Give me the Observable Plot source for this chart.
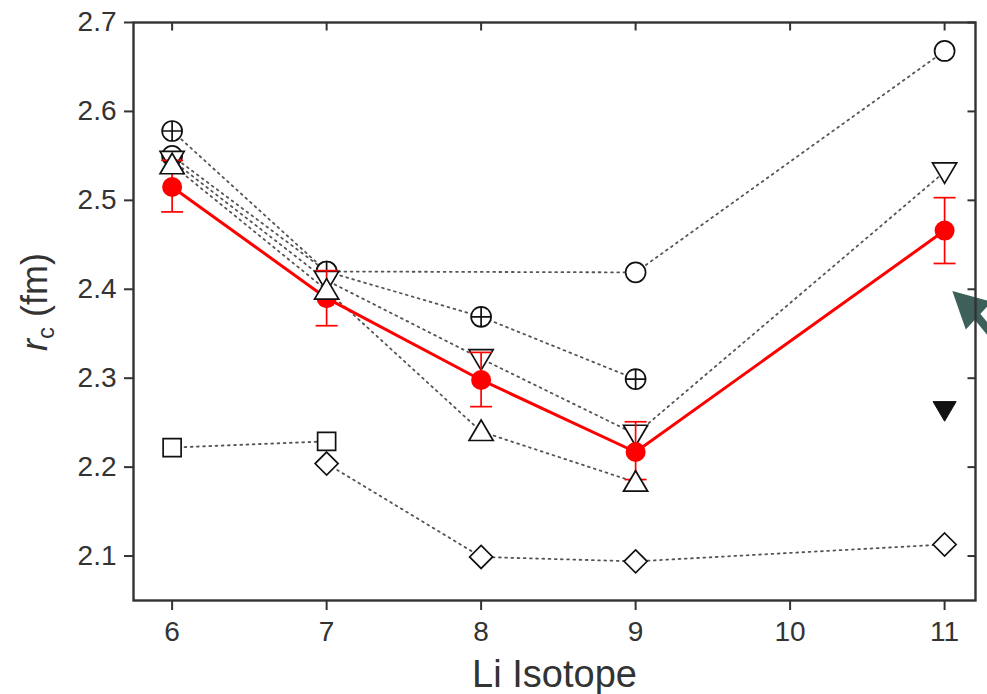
<!DOCTYPE html>
<html><head><meta charset="utf-8">
<script src="https://cdn.jsdelivr.net/npm/d3@7"></script>
<script src="https://cdn.jsdelivr.net/npm/@observablehq/plot@0.6"></script>
<style>body{margin:0;background:#fff}#chart svg{display:block}</style>
</head><body><div id="chart"></div>
<script>
// ---- data ----
const isotopeTicks = [6, 7, 8, 9, 10, 11];
const radiusTicks = [2.1, 2.2, 2.3, 2.4, 2.5, 2.6, 2.7];

// experiment (red, with error bars)
const expIsotope = [6, 7, 8, 9, 11];
const expRadius  = [2.515, 2.39, 2.298, 2.217, 2.466];
const expLow     = [2.487, 2.359, 2.268, 2.186, 2.429];
const expHigh    = [2.545, 2.421, 2.329, 2.251, 2.503];

// model calculations (open symbols, dotted lines)
const circleIsotope = [6, 7, 9, 11];
const circleRadius  = [2.55, 2.42, 2.419, 2.668];
const plusIsotope   = [6, 7, 8, 9];
const plusRadius    = [2.578, 2.42, 2.369, 2.299];
const downIsotope   = [6, 7, 8, 9, 11];
const downRadius    = [2.545, 2.41, 2.322, 2.237, 2.532];
const upIsotope     = [6, 7, 8, 9];
const upRadius      = [2.54, 2.399, 2.24, 2.183];
const squareIsotope = [6, 7];
const squareRadius  = [2.222, 2.229];
const diamondIsotope = [7, 8, 9, 11];
const diamondRadius  = [2.204, 2.099, 2.094, 2.113];
const filledIsotope = [11];
const filledRadius  = [2.264];

// annotation arrow (pointing at the 11Li point)
const arrowTail = [{x: 11.42, y: 2.325}];
const arrowBase = [{x: 11.2, y: 2.372}];
const arrowTip  = [{x: 11.05, y: 2.398}];

// ---- helpers ----
const rows = (xs, ys) => xs.map((x, i) => ({x, y: ys[i]}));
const expRows = expIsotope.map((x, i) => ({x, y: expRadius[i], lo: expLow[i], hi: expHigh[i]}));
const arrowRows = arrowTail.map((t, i) => ({x1: t.x, y1: t.y, x2: arrowBase[i].x, y2: arrowBase[i].y}));

const R = s => Math.sqrt(s / Math.PI);
const symCirclePlus = {draw(c, s) { const r = R(s); c.moveTo(r, 0); c.arc(0, 0, r, 0, 2 * Math.PI); c.moveTo(-r, 0); c.lineTo(r, 0); c.moveTo(0, -r); c.lineTo(0, r); }};
const symTriUp = {draw(c, s) { const r = R(s); c.moveTo(0, -r * 1.0); c.lineTo(r * 1.05, r * 0.78); c.lineTo(-r * 1.05, r * 0.78); c.closePath(); }};
const symTriDown = {draw(c, s) { const r = R(s); c.moveTo(0, r * 1.0); c.lineTo(r * 1.05, -r * 0.78); c.lineTo(-r * 1.05, -r * 0.78); c.closePath(); }};
const symSquare = {draw(c, s) { const r = R(s); c.moveTo(-r, -r); c.lineTo(r, -r); c.lineTo(r, r); c.lineTo(-r, r); c.closePath(); }};
const symDiamond = {draw(c, s) { const r = R(s); c.moveTo(0, -r); c.lineTo(r, 0); c.lineTo(0, r); c.lineTo(-r, 0); c.closePath(); }};
const symCap = {draw(c, s) { const r = R(s); c.moveTo(-r, 0); c.lineTo(r, 0); }};
const symTickDown = {draw(c, s) { const r = R(s); c.moveTo(0, 0); c.lineTo(0, r); }};
const symTickLeft = {draw(c, s) { const r = R(s); c.moveTo(0, 0); c.lineTo(-r, 0); }};
const symArrowHead = {draw(c, s) { const r = R(s); c.moveTo(0, 0); c.lineTo(-r * 1.9, -r * 1.0); c.lineTo(-r * 1.9, r * 1.0); c.closePath(); }};

const dotted = {stroke: "#555", strokeWidth: 1.8, strokeDasharray: "1.8,4.4"};
const openSym = {fill: "white", stroke: "#111", strokeWidth: 1.7};
const RED = "#ff0000";
const FONT = "Liberation Sans, Arial, Helvetica, sans-serif";

const series = [
  [circleIsotope, circleRadius], [plusIsotope, plusRadius], [downIsotope, downRadius],
  [upIsotope, upRadius], [squareIsotope, squareRadius], [diamondIsotope, diamondRadius]
];

const chart = Plot.plot({
  width: 987, height: 694,
  marginLeft: 133, marginRight: 12, marginTop: 22, marginBottom: 94,
  style: {fontFamily: FONT, background: "white", overflow: "hidden"},
  x: {domain: [5.75, 11.2]},
  y: {domain: [2.05, 2.7]},
  marks: [
    ...series.map(([xs, ys]) => Plot.line(rows(xs, ys), {x: "x", y: "y", ...dotted})),
    Plot.dot(rows(circleIsotope, circleRadius), {x: "x", y: "y", r: 10, symbol: "circle", ...openSym}),
    Plot.dot(rows(plusIsotope, plusRadius), {x: "x", y: "y", r: 10, symbol: symCirclePlus, ...openSym}),
    Plot.dot(rows(downIsotope, downRadius), {x: "x", y: "y", r: 11.5, symbol: symTriDown, ...openSym}),
    Plot.dot(rows(squareIsotope, squareRadius), {x: "x", y: "y", r: 9, symbol: symSquare, ...openSym}),
    Plot.dot(rows(diamondIsotope, diamondRadius), {x: "x", y: "y", r: 11.5, symbol: symDiamond, ...openSym}),
    Plot.dot(rows(filledIsotope, filledRadius), {x: "x", y: "y", r: 11, symbol: symTriDown, fill: "#111", stroke: "#111", strokeWidth: 1}),
    Plot.line(expRows, {x: "x", y: "y", stroke: RED, strokeWidth: 3}),
    Plot.ruleX(expRows, {x: "x", y1: "lo", y2: "hi", stroke: RED, strokeWidth: 1.7}),
    Plot.dot(expRows, {x: "x", y: "lo", r: 11, symbol: symCap, stroke: RED, strokeWidth: 1.7}),
    Plot.dot(expRows, {x: "x", y: "hi", r: 11, symbol: symCap, stroke: RED, strokeWidth: 1.7}),
    Plot.dot(expRows, {x: "x", y: "y", r: 10, fill: RED, stroke: "none"}),
    Plot.dot(rows(upIsotope, upRadius), {x: "x", y: "y", r: 11.5, symbol: symTriUp, ...openSym}),
    // arrow annotation
    Plot.link(arrowRows, {x1: "x1", y1: "y1", x2: "x2", y2: "y2", stroke: "#3d605a", strokeWidth: 8, clip: false}),
    Plot.dot(arrowTip, {x: "x", y: "y", r: 19, symbol: symArrowHead, rotate: -137, fill: "#3d605a", stroke: "none"}),
    // frame and axes
    Plot.frame({stroke: "#333", strokeWidth: 2.4}),
    Plot.dot(isotopeTicks, {x: d => d, frameAnchor: "top", r: 8, symbol: symTickDown, stroke: "#333", strokeWidth: 2}),
    Plot.dot(radiusTicks, {y: d => d, frameAnchor: "right", r: 8, symbol: symTickLeft, stroke: "#333", strokeWidth: 2}),
    Plot.axisX({ticks: isotopeTicks, tickSize: 10, tickPadding: 11, tickFormat: d => String(d), fontSize: 28, color: "#333", strokeWidth: 2, label: null}),
    Plot.axisY({ticks: radiusTicks, tickSize: 9, tickPadding: 8, tickFormat: d => d.toFixed(1), fontSize: 28, color: "#333", strokeWidth: 2, label: null}),
    Plot.text(["Li Isotope"], {text: d => d, frameAnchor: "bottom", dy: 74, lineAnchor: "middle", fontSize: 38, fill: "#333"})
  ]
});

// y-axis title with italic r and subscript c
const yt = d3.select(chart).append("text")
  .attr("transform", "translate(47,302) rotate(-90)")
  .attr("text-anchor", "middle")
  .attr("font-family", FONT)
  .attr("font-size", 36)
  .attr("fill", "#333");
yt.append("tspan").attr("font-style", "italic").text("r");
yt.append("tspan").attr("font-size", 24).attr("dy", 7).text("c");
yt.append("tspan").attr("dy", -7).text(" (fm)");

document.getElementById("chart").append(chart);
</script>
</body></html>
